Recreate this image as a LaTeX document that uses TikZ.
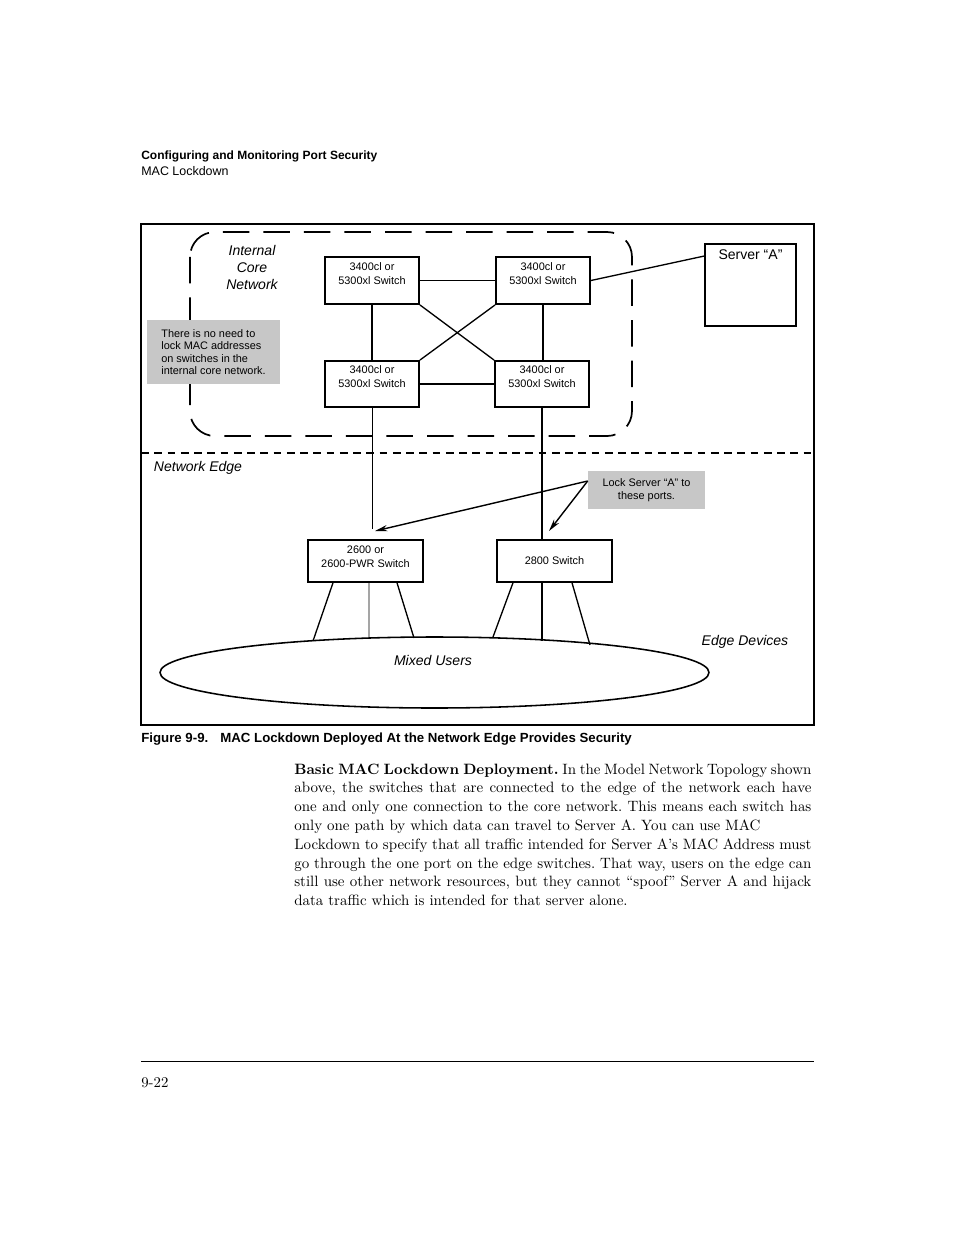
\documentclass[tikz,border=0pt]{standalone}
\usepackage{fontspec}
\newfontfamily\hsans{Liberation Sans}
\usetikzlibrary{shapes.geometric,arrows.meta,calc}
\def\PX{0.6415pt}
\hbadness=10000
\begin{document}
\begin{tikzpicture}[x=0.6415pt,y=-0.6415pt,
  swbox/.style={draw, line width=1.2pt, minimum width=94*\PX, minimum height=47*\PX, inner sep=0pt, align=center, font=\hsans\fontsize{7}{9}\selectfont, text depth=9pt},
  edgebox/.style={draw, line width=1pt, minimum width=115*\PX, minimum height=42*\PX, inner sep=0pt, align=center, font=\hsans\fontsize{7}{9}\selectfont},
  notebox/.style={fill=black!22, inner sep=0pt, font=\hsans\fontsize{7}{8}\selectfont},
  itlabel/.style={font=\hsans\itshape\fontsize{9}{10.9}\selectfont, align=center, inner sep=0pt},
  thinln/.style={line width=0.6pt},
  thickln/.style={line width=1.3pt},
  midln/.style={line width=0.85pt},
  arr/.style={line width=0.9pt, -{Stealth[length=8pt,width=4pt]}}
]
\useasboundingbox (0,0) rectangle (954,1235);
\fill[white] (0,0) rectangle (954,1235);

% header
\node[anchor=base west, inner sep=0pt, font=\hsans\bfseries\fontsize{7.7}{9}\selectfont] (h1) at (141,159) {Configuring and Monitoring Port Security};
\node[anchor=base west, inner sep=0pt, font=\hsans\fontsize{8}{9}\selectfont] (h2) at (141,175.5) {MAC Lockdown};

% frame
\draw[line width=0.7pt] (141,224) rectangle (814,725);

% internal core region
\draw[line width=1.1pt, dash pattern=on 17pt off 9pt, rounded corners=16pt] (190,232) rectangle (632,436);

% network edge separator
\draw[line width=0.8pt, dash pattern=on 5pt off 3.5pt] (141,453) -- (814,453);

% switches
\node[swbox] (S1) at (372,280.5) {3400cl or\\5300xl Switch};
\node[swbox] (S2) at (543,280.5) {3400cl or\\5300xl Switch};
\node[swbox, minimum height=46*\PX] (S3) at (372,384) {3400cl or\\5300xl Switch};
\node[swbox, minimum height=46*\PX] (S4) at (542,384) {3400cl or\\5300xl Switch};

% server
\node[draw, line width=1.2pt, minimum width=91*\PX, minimum height=82*\PX, inner sep=0pt,
  label={[font=\hsans\fontsize{9}{10}\selectfont, anchor=north, inner sep=0pt, yshift=-4pt]north:Server “A”}] (srv) at (750.5,285) {};

% core connections
\draw[thinln] (S1.east) -- (S2.west);
\draw[thickln] (S3.east) -- (S4.west);
\draw[thickln] (S1.south) -- (S3.north);
\draw[thickln] (S2.south) -- (S2.south |- S4.north);
\draw[midln] (S1.south east) -- (S4.north west);
\draw[midln] (S2.south west) -- (S3.north east);
\draw[midln] (S2.east) -- ($(srv.north west)+(0,13)$);

% notes
\node[notebox, minimum width=133*\PX, minimum height=64*\PX, align=left] (note1) at (213.5,352)
  {There is no need to\\lock MAC addresses\\on switches in the\\internal core network.};
\node[notebox, minimum width=117*\PX, minimum height=38*\PX, align=center] (note2) at (646.5,490)
  {Lock Server “A” to\\these ports.};

% labels
\node[itlabel] (icn) at (252,267) {Internal\\Core\\Network};
\node[itlabel] (ne) at (198,468) {Network Edge};
\node[itlabel] (ed) at (745,642) {Edge Devices};

% edge switches
\node[edgebox, text depth=5pt] (b26) at (365.5,561) {2600 or\\2600-PWR Switch};
\node[edgebox] (b28) at (554.5,561) {2800 Switch};

% links from core to edge
\coordinate (a1) at (375,531);
\coordinate (a2) at (549,531);
\coordinate (s3end) at (372,529);
\draw[thinln] (S3.south) -- (s3end);
\draw[thickln] (S4.south) -- (S4.south |- b28.north);

% arrows
\coordinate (lk) at ($(note2.west)+(0,-9)$);
\draw[arr] (lk) -- (a1);
\draw[arr] (lk) -- (a2);

% users ellipse
\node[draw, ellipse, line width=1pt, minimum width=549*\PX, minimum height=71*\PX, inner sep=0pt] (users) at (434.5,672.5) {};
\node[itlabel] (mu) at (433,660) {Mixed Users};

\coordinate (e1) at (313,641);
\coordinate (e2) at (369,638);
\coordinate (e3) at (414,638);
\coordinate (e4) at (493,637);
\coordinate (e5) at (542,641);
\coordinate (e6) at (590,645);
\draw[midln] ($(b26.south)+(-32.5,0)$) -- (e1);
\draw[thinln] ($(b26.south)+(3.5,0)$) -- (e2);
\draw[midln] ($(b26.south)+(31.5,0)$) -- (e3);
\draw[midln] ($(b28.south)+(-41.5,0)$) -- (e4);
\draw[thickln] ($(b28.south)+(-12.5,0)$) -- (e5);
\draw[midln] ($(b28.south)+(17.5,0)$) -- (e6);

% caption
\node[anchor=base west, inner sep=0pt, font=\hsans\bfseries\fontsize{8.5}{10}\selectfont] (figno) at (141,742) {Figure 9-9.};
\node[anchor=base west, inner sep=0pt, font=\hsans\bfseries\fontsize{8.5}{10}\selectfont] (cap) at (220,742) {MAC Lockdown Deployed At the Network Edge Provides Security};

% body text
\node[anchor=base west, inner sep=0pt] (body) at (294,774) {\parbox[t]{331.7pt}{\fontsize{9.6}{12.06}\selectfont\frenchspacing
\textbf{Basic MAC Lockdown Deployment.}\hspace{0.25em}In the Model Network Topology shown\linebreak
above, the switches that are connected to the edge of the network each have\linebreak
one and only one connection to the core network. This means each switch has\linebreak
only one path by which data can travel to Server A. You can use MAC\\
Lockdown to specify that all traffic intended for Server A’s MAC Address must\linebreak
go through the one port on the edge switches. That way, users on the edge can\linebreak
still use other network resources, but they cannot “spoof” Server A and hijack\linebreak
data traffic which is intended for that server alone.}};

% footer
\draw[line width=0.6pt] (141,1061) -- (814,1061);
\node[anchor=base west, inner sep=0pt, font=\fontsize{9.5}{11}\selectfont] (pg) at (141,1087) {9-22};
\end{tikzpicture}
\end{document}
